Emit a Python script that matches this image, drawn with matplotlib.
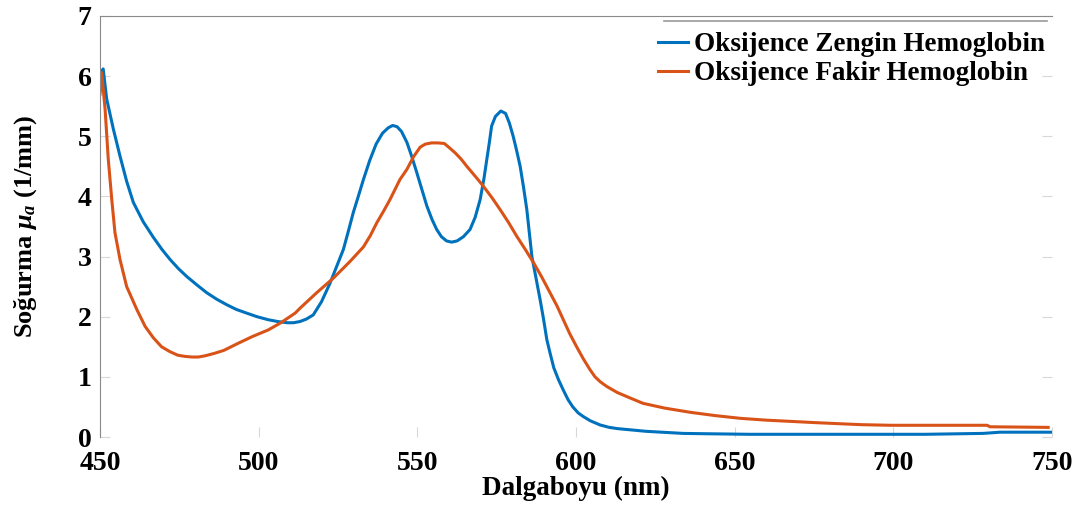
import matplotlib
matplotlib.use("Agg")
import matplotlib.pyplot as plt
from matplotlib.lines import Line2D

# Oxygen-rich hemoglobin (blue)
oxy_wl = [450, 451, 452.1, 454.2, 456.3, 458.4, 460.5, 463.6, 466.8, 469.5, 472.1, 474.7, 477.3, 480.5, 483.6,
          486.8, 489.9, 493, 496.2, 499.5, 503, 506, 509, 511, 513, 515, 517.2, 519.8, 522.5, 524.6,
          526.7, 528.3, 529.8, 531.5, 533, 535, 537, 539, 540.8, 542.2, 543.6, 545, 546.7, 548.2,
          549.8, 551.4, 553, 554.6, 556.1, 557.6, 559.2, 560.8, 562.5, 564.5, 566.6, 568.2, 569.8,
          571, 571.9, 572.7, 573.4, 574.6, 576.3, 577.8, 579, 580.2, 581.3, 582.4, 583.5, 584.5, 585.3,
          586.1, 587.4, 588.7, 589.8, 590.8, 591.8, 593, 594.5, 596, 597.5, 599, 600.7, 602.3, 604.5,
          607.6, 610.5, 613, 617, 622, 627, 633.7, 640, 654.8, 670, 690, 710, 728.3, 731, 733.6, 740, 750]
oxy_abs = [6.05, 6.12, 5.62, 5.12, 4.67, 4.25, 3.9, 3.58, 3.32, 3.12, 2.95, 2.8, 2.67, 2.53, 2.4,
           2.29, 2.2, 2.12, 2.06, 2.0, 1.95, 1.92, 1.9, 1.9, 1.92, 1.96, 2.03, 2.25, 2.56, 2.84,
           3.12, 3.43, 3.73, 4.02, 4.28, 4.6, 4.87, 5.05, 5.14, 5.18, 5.16, 5.08, 4.9, 4.67,
           4.4, 4.12, 3.84, 3.62, 3.45, 3.33, 3.26, 3.24, 3.26, 3.33, 3.45, 3.65, 3.95,
           4.3, 4.62, 4.9, 5.17, 5.33, 5.42, 5.38, 5.22, 5.0, 4.76, 4.5, 4.14, 3.78, 3.39,
           3.0, 2.64, 2.28, 1.95, 1.62, 1.4, 1.15, 0.95, 0.78, 0.62, 0.5, 0.4, 0.34, 0.27,
           0.2, 0.16, 0.14, 0.12, 0.095, 0.08, 0.06, 0.055, 0.045, 0.045, 0.045, 0.045, 0.06, 0.07, 0.08, 0.08, 0.08]

# Oxygen-poor hemoglobin (orange)
deoxy_wl = [450, 450.5, 451.6, 452.6, 453.7, 454.7, 456.3, 458.4, 461.6, 464.2, 466.8, 469.4, 472, 474.5,
            476.8, 479, 481, 483.1, 486, 489, 493.6, 498, 503, 507, 511.5, 513, 518.3, 523.5, 528.8,
            533, 535.2, 537.2, 539.3, 541.4, 544.5, 546.7, 548.8, 550.9, 552.5, 554.5, 556.5, 558.5,
            560.3, 562, 563.8, 565.6, 567.2, 568.8, 570.8, 573.5, 576.1, 578.7, 581.3, 584, 586.6, 589.2,
            591.8, 594, 596, 598, 600.2, 602.3, 604.4, 606, 607.6, 609.7, 613, 617, 621.1, 628, 636.1,
            644, 651.9, 660, 667.6, 675, 683.4, 690, 699.1, 710, 720, 729.5, 730.5, 740, 748.8]
deoxy_abs = [5.7, 6.06, 5.45, 4.62, 3.95, 3.4, 2.95, 2.5, 2.12, 1.84, 1.65, 1.5, 1.42, 1.36,
             1.34, 1.33, 1.33, 1.35, 1.39, 1.44, 1.56, 1.67, 1.78, 1.9, 2.06, 2.14, 2.4, 2.64, 2.92,
             3.16, 3.35, 3.56, 3.75, 3.95, 4.28, 4.45, 4.66, 4.82, 4.87, 4.89, 4.89, 4.88,
             4.8, 4.72, 4.62, 4.5, 4.4, 4.3, 4.17, 3.98, 3.78, 3.57, 3.34, 3.12, 2.9, 2.66,
             2.4, 2.18, 1.95, 1.72, 1.5, 1.3, 1.12, 1.0, 0.92, 0.84, 0.74, 0.65, 0.56, 0.48, 0.41,
             0.355, 0.31, 0.28, 0.26, 0.24, 0.22, 0.205, 0.195, 0.195, 0.195, 0.195, 0.17, 0.165, 0.16]

x_ticks = [450, 500, 550, 600, 650, 700, 750]
y_ticks = [0, 1, 2, 3, 4, 5, 6, 7]
labels = ["Oksijence Zengin Hemoglobin", "Oksijence Fakir Hemoglobin"]
colors = ["#0072BD", "#D95319"]

plt.rcParams['font.family'] = ['Liberation Serif', 'DejaVu Serif']
plt.rcParams['font.weight'] = 'bold'
plt.rcParams['mathtext.fontset'] = 'custom'
plt.rcParams['mathtext.rm'] = 'Liberation Serif:bold'
plt.rcParams['mathtext.it'] = 'Liberation Serif:bold:italic'
plt.rcParams['mathtext.bf'] = 'Liberation Serif:bold'

fig = plt.figure(figsize=(10.86, 5.11), dpi=100)
ax = fig.add_axes([0.0921, 0.1448, 0.8766, 0.8239])

ax.plot(oxy_wl, oxy_abs, color=colors[0], lw=2.2, label=labels[0])
ax.plot(deoxy_wl, deoxy_abs, color=colors[1], lw=2.2, label=labels[1])

ax.set_xlim(450, 750)
ax.set_ylim(0, 7)
ax.set_xticks(x_ticks)
ax.set_yticks(y_ticks)
ax.tick_params(axis='both', labelsize=20, direction='in', length=7, color='#d8d8d8',
               right=True, top=False)
ax.tick_params(axis='x', pad=10)
ax.tick_params(axis='y', pad=6)
for lab in ax.get_xticklabels() + ax.get_yticklabels():
    lab.set_fontweight('bold')

ax.spines['left'].set_color('#8a8a8a')
ax.spines['top'].set_color('#8a8a8a')
ax.spines['right'].set_visible(False)
ax.spines['bottom'].set_visible(False)

ax.set_xlabel("Dalgaboyu (nm)", fontsize=19.5, fontweight='bold', labelpad=0)
ax.set_ylabel(r"Soğurma $\mu_a$ (1/mm)", fontsize=19, fontweight='bold', labelpad=28)

leg = ax.legend(loc='upper right', bbox_to_anchor=(1.012, 1.007), frameon=False,
                prop={'family': 'Liberation Serif', 'weight': 'bold', 'size': 19.5},
                handlelength=1.1, handletextpad=0.2, labelspacing=0.15, borderaxespad=0.3)

fig.add_artist(Line2D([664 / 1086, 1047 / 1086], [1 - 21 / 511, 1 - 21 / 511],
                      transform=fig.transFigure, color='#9a9a9a', lw=1.2))

fig.savefig("out.png", dpi=100)
